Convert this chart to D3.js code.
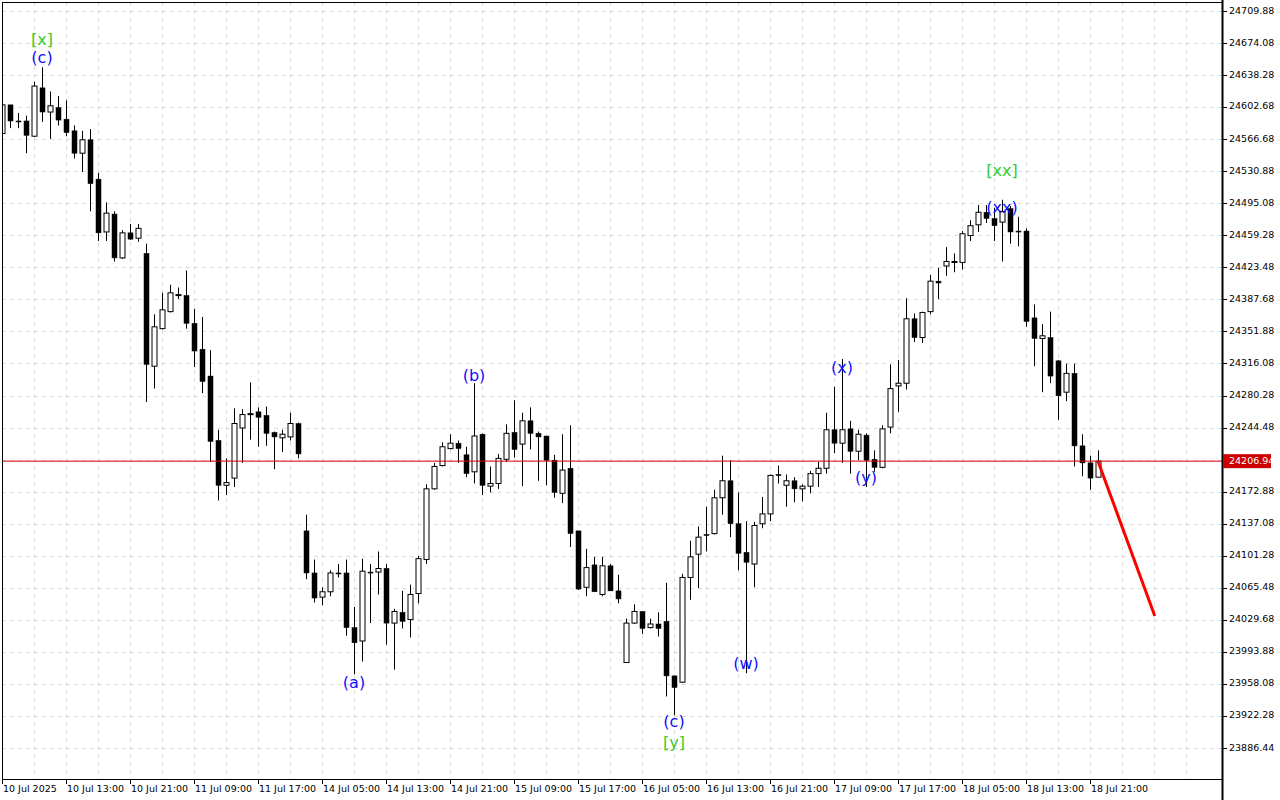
<!DOCTYPE html>
<html><head><meta charset="utf-8">
<script src="https://cdn.jsdelivr.net/npm/d3@7/dist/d3.min.js"></script>
<style>body{margin:0;background:#fff}svg{display:block}</style>
</head><body><svg id="c" width="1280" height="800"></svg>
<script>
const opens  = [24573,24605,24587,24587,24570,24624,24597,24602,24589,24576,24551,24566,24522,24463,24483,24434,24462,24456,24439,24313,24355,24374,24392,24392,24361,24332,24302,24230,24180,24188,24244,24259,24262,24258,24239,24233,24234,24249,24129,24082,24055,24061,24082,24082,24021,24006,24083,24083,24087,24026,24038,24030,24059,24097,24176,24202,24221,24227,24214,24195,24237,24179,24182,24209,24239,24226,24252,24238,24235,24208,24171,24199,24129,24066,24091,24058,24090,24062,23982,24026,24039,24021,24025,24028,23967,23960,24077,24103,24125,24126,24166,24185,24137,24105,24092,24137,24148,24192,24180,24185,24176,24179,24193,24199,24242,24227,24243,24218,24236,24209,24200,24245,24291,24294,24366,24345,24374,24408,24425,24429,24429,24459,24471,24485,24478,24474,24489,24464,24464,24367,24344,24345,24319,24284,24305,24224,24205,24189];
const highs  = [24610,24605,24596,24593,24631,24647,24620,24615,24610,24582,24576,24578,24529,24496,24486,24465,24472,24472,24450,24371,24395,24404,24401,24420,24377,24368,24331,24242,24210,24266,24265,24295,24267,24268,24240,24242,24261,24250,24147,24097,24066,24085,24092,24097,24044,24098,24092,24106,24092,24042,24062,24069,24101,24181,24205,24228,24237,24230,24223,24294,24238,24201,24215,24248,24275,24261,24267,24240,24235,24214,24237,24247,24129,24109,24100,24100,24092,24080,24031,24047,24039,24031,24038,24071,23967,24081,24118,24134,24156,24175,24213,24208,24172,24140,24139,24167,24192,24202,24192,24189,24181,24196,24206,24261,24290,24321,24252,24242,24238,24219,24247,24315,24320,24389,24372,24374,24415,24423,24446,24439,24464,24476,24493,24493,24490,24499,24492,24480,24467,24382,24360,24374,24320,24316,24316,24237,24213,24219];
const lows   = [24568,24579,24579,24551,24569,24586,24567,24582,24570,24545,24530,24486,24453,24453,24430,24433,24454,24452,24273,24288,24354,24373,24388,24355,24312,24283,24206,24163,24169,24178,24205,24231,24223,24224,24198,24217,24230,24210,24075,24049,24046,24056,24077,24012,23969,23983,24026,24058,24002,23974,24020,24010,24048,24092,24175,24201,24220,24205,24189,24182,24169,24172,24176,24206,24211,24179,24220,24185,24180,24166,24160,24111,24063,24056,24061,24056,24062,24048,23982,24025,24014,24020,24011,23944,23923,23959,24052,24065,24106,24125,24147,24122,24085,23970,24066,24132,24140,24182,24156,24161,24162,24171,24178,24193,24216,24205,24193,24208,24178,24195,24199,24238,24262,24287,24340,24339,24371,24388,24414,24418,24421,24453,24463,24473,24453,24430,24450,24447,24357,24313,24284,24294,24253,24274,24201,24190,24175,24189];
const closes = [24605,24587,24586,24571,24626,24597,24604,24588,24574,24551,24566,24517,24462,24484,24434,24462,24455,24467,24315,24357,24376,24395,24393,24361,24330,24296,24229,24180,24183,24249,24259,24260,24256,24238,24234,24237,24249,24215,24082,24054,24061,24082,24081,24021,24004,24084,24082,24087,24026,24039,24028,24058,24098,24176,24201,24223,24227,24221,24193,24235,24180,24182,24210,24238,24220,24252,24238,24234,24208,24172,24197,24126,24064,24088,24061,24090,24062,24053,24026,24039,24020,24025,24020,23967,23954,24077,24100,24122,24124,24166,24185,24137,24104,24094,24135,24148,24191,24191,24185,24176,24179,24193,24199,24242,24227,24242,24218,24237,24208,24200,24243,24288,24294,24366,24345,24373,24408,24406,24430,24430,24461,24470,24485,24478,24470,24486,24463,24463,24363,24344,24347,24302,24280,24305,24224,24205,24188,24206.94];
const timeLabels = ["10 Jul 2025","10 Jul 13:00","10 Jul 21:00","11 Jul 09:00","11 Jul 17:00","14 Jul 05:00","14 Jul 13:00","14 Jul 21:00","15 Jul 09:00","15 Jul 17:00","16 Jul 05:00","16 Jul 13:00","16 Jul 21:00","17 Jul 09:00","17 Jul 17:00","18 Jul 05:00","18 Jul 13:00","18 Jul 21:00"];
const priceTicks = [24709.88,24674.08,24638.28,24602.68,24566.68,24530.88,24495.08,24459.28,24423.48,24387.68,24351.88,24316.08,24280.28,24244.48,24172.88,24137.08,24101.28,24065.48,24029.68,23993.88,23958.08,23922.28,23886.44];
const gridPrices = [24709.88,24674.08,24638.28,24602.68,24566.68,24530.88,24495.08,24459.28,24423.48,24387.68,24351.88,24316.08,24280.28,24244.48,24208.68,24172.88,24137.08,24101.28,24065.48,24029.68,23993.88,23958.08,23922.28,23886.44];
const currentPrice = 24206.94;
const forecastIdx = [137, 144.1];
const forecastVal = [24206.94, 24034];
const waveText  = ["[x]","(c)","(a)","(b)","(c)","[y]","(w)","(x)","(y)","[xx]","(xx)"];
const waveIdx   = [5,5,44,59,84,84,93,105,108,125,125];
const waveVal   = [24677,24657,23959,24302,23915,23892,23980,24310,24188,24530,24489];
const waveGreen = [true,false,false,false,false,true,false,false,false,true,false];

const svg = d3.select("#c");
const L=2,R=1222,T=2,B=779;
const x = d3.scaleLinear().domain([0,152.5]).range([2,1222]);
const y = d3.scaleLinear().domain([23886.44,24709.88]).range([748,11]);
const font = "DejaVu Sans, sans-serif";

svg.append("defs").append("clipPath").attr("id","cl").append("rect").attr("x",L).attr("y",T).attr("width",R-L).attr("height",B-T);

const g = svg.append("g");
// grid
g.selectAll(".hg").data(gridPrices).join("line").attr("x1",L).attr("x2",R)
 .attr("y1",d=>Math.round(y(d))+0.5).attr("y2",d=>Math.round(y(d))+0.5)
 .attr("stroke","#dcdcdc").attr("stroke-dasharray","4,4");
const vgrid = d3.range(4, 152, 4);
g.selectAll(".vg").data(vgrid).join("line").attr("y1",T).attr("y2",B)
 .attr("x1",d=>Math.round(x(d))+0.5).attr("x2",d=>Math.round(x(d))+0.5)
 .attr("stroke","#dcdcdc").attr("stroke-dasharray","4,4");

const data = opens.map((o,i)=>({i,o,h:highs[i],l:lows[i],c:closes[i]}));
const cg = svg.append("g").attr("clip-path","url(#cl)");
cg.selectAll(".w").data(data).join("line")
 .attr("x1",d=>Math.round(x(d.i))+0.5).attr("x2",d=>Math.round(x(d.i))+0.5)
 .attr("y1",d=>y(d.h)).attr("y2",d=>y(d.l)).attr("stroke","#000");
cg.selectAll(".b").data(data).join("rect")
 .attr("x",d=>Math.round(x(d.i))-2).attr("width",5)
 .attr("y",d=>y(Math.max(d.o,d.c))).attr("height",d=>Math.max(1,Math.abs(y(d.o)-y(d.c))))
 .attr("fill",d=>d.c>=d.o?"#fff":"#000")
 .attr("stroke","#000").attr("stroke-width",d=>d.c>=d.o?1:0.5);

// current price line
cg.append("line").attr("x1",L).attr("x2",R).attr("y1",y(currentPrice)).attr("y2",y(currentPrice)).attr("stroke","#e00000").attr("stroke-width",1);
// forecast
cg.append("path").datum(forecastIdx.map((d,i)=>[d,forecastVal[i]]))
 .attr("d",d3.line().x(d=>x(d[0])).y(d=>y(d[1]))).attr("stroke","#ff0000").attr("stroke-width",3).attr("fill","none");

// wave labels
svg.selectAll(".wl").data(waveText).join("text")
 .attr("x",(d,i)=>x(waveIdx[i])).attr("y",(d,i)=>y(waveVal[i]))
 .attr("text-anchor","middle").attr("dominant-baseline","middle")
 .attr("font-family",font).attr("font-size",16)
 .attr("fill",(d,i)=>waveGreen[i]?"#33cc33":"#1010ff").text(d=>d);

// frame
svg.append("rect").attr("x",L+0.5).attr("y",T+0.5).attr("width",R-L).attr("height",B-T).attr("fill","none").attr("stroke","#000");
svg.append("line").attr("x1",R+0.5).attr("x2",R+0.5).attr("y1",0).attr("y2",800).attr("stroke","#000").attr("stroke-width",2);

// y axis
const ya = svg.append("g");
ya.selectAll("line").data(priceTicks).join("line").attr("x1",R).attr("x2",R+5)
 .attr("y1",d=>Math.round(y(d))+0.5).attr("y2",d=>Math.round(y(d))+0.5).attr("stroke","#000");
ya.selectAll("text").data(priceTicks).join("text").attr("x",R+7).attr("y",d=>y(d))
 .attr("dominant-baseline","middle").attr("font-family",font).attr("font-size",9.5).attr("fill","#000")
 .text(d=>d.toFixed(2));
svg.append("rect").attr("x",R+1).attr("y",y(currentPrice)-7).attr("width",48).attr("height",14).attr("fill","#cc0000");
svg.append("text").attr("x",R+7).attr("y",y(currentPrice)).attr("dominant-baseline","middle")
 .attr("font-family",font).attr("font-size",9.5).attr("fill","#fff").text(currentPrice.toFixed(2));

// x axis
const xa = svg.append("g");
const xt = timeLabels.map((t,k)=>({t,i:k*8}));
xa.selectAll("line").data(xt).join("line").attr("x1",d=>Math.round(x(d.i))+0.5).attr("x2",d=>Math.round(x(d.i))+0.5)
 .attr("y1",B).attr("y2",B+5).attr("stroke","#000");
xa.selectAll("text").data(xt).join("text").attr("x",d=>x(d.i)+1).attr("y",B+10)
 .attr("dominant-baseline","middle").attr("font-family",font).attr("font-size",9.5).attr("fill","#000").text(d=>d.t);
</script></body></html>
